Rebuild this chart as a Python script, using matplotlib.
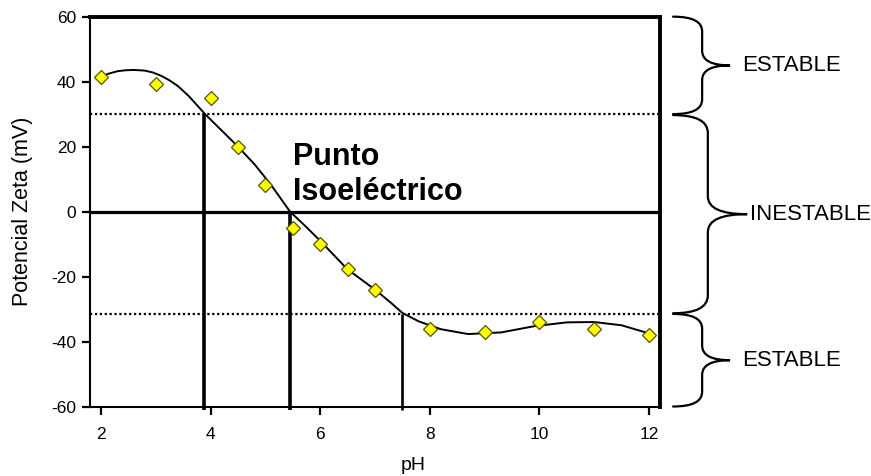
import matplotlib
matplotlib.use('Agg')
import matplotlib.pyplot as plt
from matplotlib.path import Path
from matplotlib.patches import PathPatch
from matplotlib.transforms import blended_transform_factory

plt.rcParams['font.family'] = ['Liberation Sans', 'DejaVu Sans']
plt.rcParams['axes.unicode_minus'] = False

# measured points
ph = [2, 3, 4, 4.5, 5, 5.5, 6, 6.5, 7, 8, 9, 10, 11, 12]
zeta = [41.3, 39.2, 35.1, 20, 8.2, -5.2, -10, -17.8, -24.2, -36, -37.2, -34, -36, -38]

# fitted curve
curve_ph = [2.0, 2.15, 2.3, 2.45, 2.6, 2.8, 2.95, 3.1, 3.25, 3.4, 3.6, 3.9, 4.2,
            4.5, 4.8, 5.1, 5.45, 5.75, 6.0, 6.5, 7.0, 7.3, 7.5, 7.8, 8.2, 8.7,
            9.3, 9.9, 10.5, 11.0, 11.5, 12.0]
curve_z = [41.5, 42.5, 43.2, 43.5, 43.6, 43.4, 42.8, 41.8, 40.4, 38.7, 35.6, 30,
           25, 20, 14.6, 8.3, 0, -4.8, -9, -17.8, -24, -28.2, -31.2, -33.8,
           -36.2, -37.7, -37.2, -35.3, -34.1, -34, -35, -37.5]

# stability limits and where the curve meets them
limits = [30, -31.5]
cross_ph = [3.88, 5.45, 7.5]
cross_z = [30, 0, -31.5]
pi_text = ['Punto', 'Isoeléctrico']
zones = ['ESTABLE', 'INESTABLE', 'ESTABLE']
zone_bounds = [(60, 30), (29.7, -31.3), (-31.5, -60)]

fig = plt.figure(figsize=(8.71, 4.76), dpi=100)
ax = fig.add_axes([0.1033, 0.146, 0.6544, 0.819])
ax.set_xlim(1.8, 12.2)
ax.set_ylim(-60, 60)

for y in limits:
    ax.axhline(y, color='black', lw=1.6, ls=(0, (1, 1.2)), zorder=2)
ax.axhline(0, color='black', lw=2.3, zorder=2)
for i, (x, top) in enumerate(zip(cross_ph, cross_z)):
    ax.vlines(x, -61, top, color='black', lw=2.6 if i < 2 else 1.9,
              clip_on=False, zorder=2)

ax.plot(curve_ph, curve_z, color='black', lw=1.4, zorder=3)
ax.plot(ph, zeta, ls='none', marker='D', ms=7.5, mfc='#ffff00', mec='#555500',
        mew=0.9, zorder=4)

ax.text(5.5, 14.3, pi_text[0], fontsize=22, fontweight='bold', va='baseline')
ax.text(5.5, 3.5, pi_text[1], fontsize=22, fontweight='bold', va='baseline')

for side in ['top', 'right']:
    ax.spines[side].set_linewidth(2.8)
for side in ['left', 'bottom']:
    ax.spines[side].set_linewidth(1.5)

ax.set_xticks([2, 4, 6, 8, 10, 12])
ax.set_yticks([-60, -40, -20, 0, 20, 40, 60])
ax.tick_params(axis='both', direction='out', length=6, width=1.6, labelsize=12.5)
ax.tick_params(axis='x', pad=9)
ax.tick_params(axis='y', pad=4)

ax.set_xlabel('pH', fontsize=14)
ax.xaxis.set_label_coords(0.567, -0.13)
ax.set_ylabel('Potencial Zeta (mV)', fontsize=15.5)
ax.yaxis.set_label_coords(-0.1, 0.5)

# curly braces on the right
tr = blended_transform_factory(ax.transAxes, ax.transData)


def brace(top, bot, x0, xm, xt, r):
    mid = (top + bot) / 2
    verts = [(x0, top), (xm, top), (xm, top - r),
             (xm, mid + r), (xm, mid), (xt, mid),
             (xm, mid), (xm, mid - r),
             (xm, bot + r), (xm, bot), (x0, bot)]
    codes = [Path.MOVETO, Path.CURVE3, Path.CURVE3,
             Path.LINETO, Path.CURVE3, Path.CURVE3,
             Path.CURVE3, Path.CURVE3,
             Path.LINETO, Path.CURVE3, Path.CURVE3]
    p = PathPatch(Path(verts, codes), fill=False, lw=1.6, color='black',
                  transform=tr, clip_on=False, capstyle='round')
    ax.add_patch(p)
    return mid


for i, ((top, bot), lab) in enumerate(zip(zone_bounds, zones)):
    if i == 1:
        mid = brace(top, bot, 1.023, 1.084, 1.153, 5.5)
        tx = 1.158
    else:
        mid = brace(top, bot, 1.023, 1.074, 1.123, 4.5)
        tx = 1.144
    ax.text(tx, mid, lab, transform=tr, fontsize=16, va='center', ha='left',
            clip_on=False)

fig.savefig('out.png', dpi=100)
